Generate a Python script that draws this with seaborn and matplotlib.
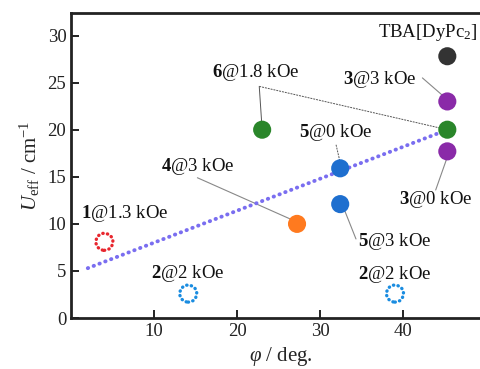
import matplotlib
matplotlib.use('Agg')
import matplotlib.pyplot as plt
import seaborn as sns
import pandas as pd

# Measured points (phi in deg, Ueff in cm-1)
phi = [45.3, 45.3, 45.3, 45.3, 23.0, 32.4, 32.4, 27.2, 4.0, 14.1, 39.0]
ueff = [27.8, 23.0, 20.0, 17.7, 20.0, 15.9, 12.1, 10.0, 8.1, 2.6, 2.6]
compound = ['TBA', '3', '6', '3', '6', '5', '5', '4', '1', '2', '2']
filled = [True, True, True, True, True, True, True, True, False, False, False]

# Linear trend shown as dotted line (end points)
fit_x = [2.0, 46.5]
fit_y = [5.3, 20.4]

point_labels = [
    r'TBA[DyPc$_2$]', r'$\mathbf{3}$@3 kOe', r'$\mathbf{6}$@1.8 kOe',
    r'$\mathbf{5}$@0 kOe', r'$\mathbf{4}$@3 kOe', r'$\mathbf{1}$@1.3 kOe',
    r'$\mathbf{2}$@2 kOe', r'$\mathbf{5}$@3 kOe', r'$\mathbf{2}$@2 kOe',
    r'$\mathbf{3}$@0 kOe',
]
label_pos = [
    (42.9, 30.3), (37.2, 25.3), (22.2, 26.1), (31.8, 19.7), (15.2, 16.1),
    (6.5, 11.1), (14.0, 4.7), (39.0, 8.1), (39.0, 4.6), (43.9, 12.6),
]

palette = {
    'TBA': '#333333',
    '3': '#8a2aa8',
    '6': '#2a862a',
    '5': '#1e6fcf',
    '4': '#ff7a1f',
    '1': '#e8262e',
    '2': '#1a8ce0',
}

data = pd.DataFrame({'phi': phi, 'ueff': ueff, 'compound': compound, 'filled': filled})

sns.set_style('ticks')
plt.rcParams['font.family'] = ['Liberation Serif', 'DejaVu Serif']
plt.rcParams['mathtext.fontset'] = 'custom'
plt.rcParams['mathtext.rm'] = 'Liberation Serif'
plt.rcParams['mathtext.it'] = 'Liberation Serif:italic'
plt.rcParams['mathtext.bf'] = 'Liberation Serif:bold'

fig = plt.figure(figsize=(4.81, 3.69), dpi=100)
ax = fig.add_axes([0.148, 0.138, 0.87, 0.827])

# leader lines
ax.plot([23.0, 22.65], [20.0, 24.6], color='#555555', lw=0.7, zorder=1)
ax.plot([22.65, 45.3], [24.6, 20.0], color='#555555', lw=0.7, ls=(0, (2, 1)), zorder=1)
ax.plot([42.3, 45.3], [25.5, 23.2], color='#888888', lw=0.8, zorder=1)
ax.plot([31.9, 32.4], [18.4, 16.5], color='#555555', lw=0.7, ls=(0, (2, 1)), zorder=1)
ax.plot([32.9, 34.3], [11.5, 8.4], color='#888888', lw=0.8, zorder=1)
ax.plot([15.2, 27.2], [14.9, 10.2], color='#888888', lw=0.8, zorder=1)
ax.plot([45.3, 43.9], [17.1, 13.6], color='#888888', lw=0.8, zorder=1)

sns.lineplot(x=fit_x, y=fit_y, color='#7a6ef0', lw=2.8, ls=(0, (0.1, 1.5)),
             dash_capstyle='round', ax=ax, zorder=2)

sns.scatterplot(data=data[data['filled']], x='phi', y='ueff', hue='compound',
                palette=palette, s=170, linewidth=0, legend=False, ax=ax, zorder=3)
for _, row in data[~data['filled']].iterrows():
    sc = ax.scatter(row['phi'], row['ueff'], s=150, facecolors='none',
                    edgecolors=palette[row['compound']], linewidths=2.4,
                    linestyles=(0, (0.1, 1.3)), zorder=3)
    sc.set_capstyle('round')

for txt, (tx, ty) in zip(point_labels, label_pos):
    ax.text(tx, ty, txt, ha='center', va='center', fontsize=13.5, color='#111111')

ax.set_xlim(0, 50.4)
ax.set_ylim(0, 32.4)
ax.set_xticks([10, 20, 30, 40])
ax.set_yticks([0, 5, 10, 15, 20, 25, 30])
ax.tick_params(direction='in', length=6, width=1.4, labelsize=13.5, colors='#222222')
ax.spines['right'].set_visible(False)
for side in ['left', 'bottom', 'top']:
    ax.spines[side].set_linewidth(2)
    ax.spines[side].set_color('#222222')

ax.set_xlabel(r'$\varphi$ / deg.', fontsize=15)
ax.set_ylabel(r'$U_{\mathrm{eff}}$ / cm$^{-1}$', fontsize=15)

plt.savefig('out.png', dpi=100)
